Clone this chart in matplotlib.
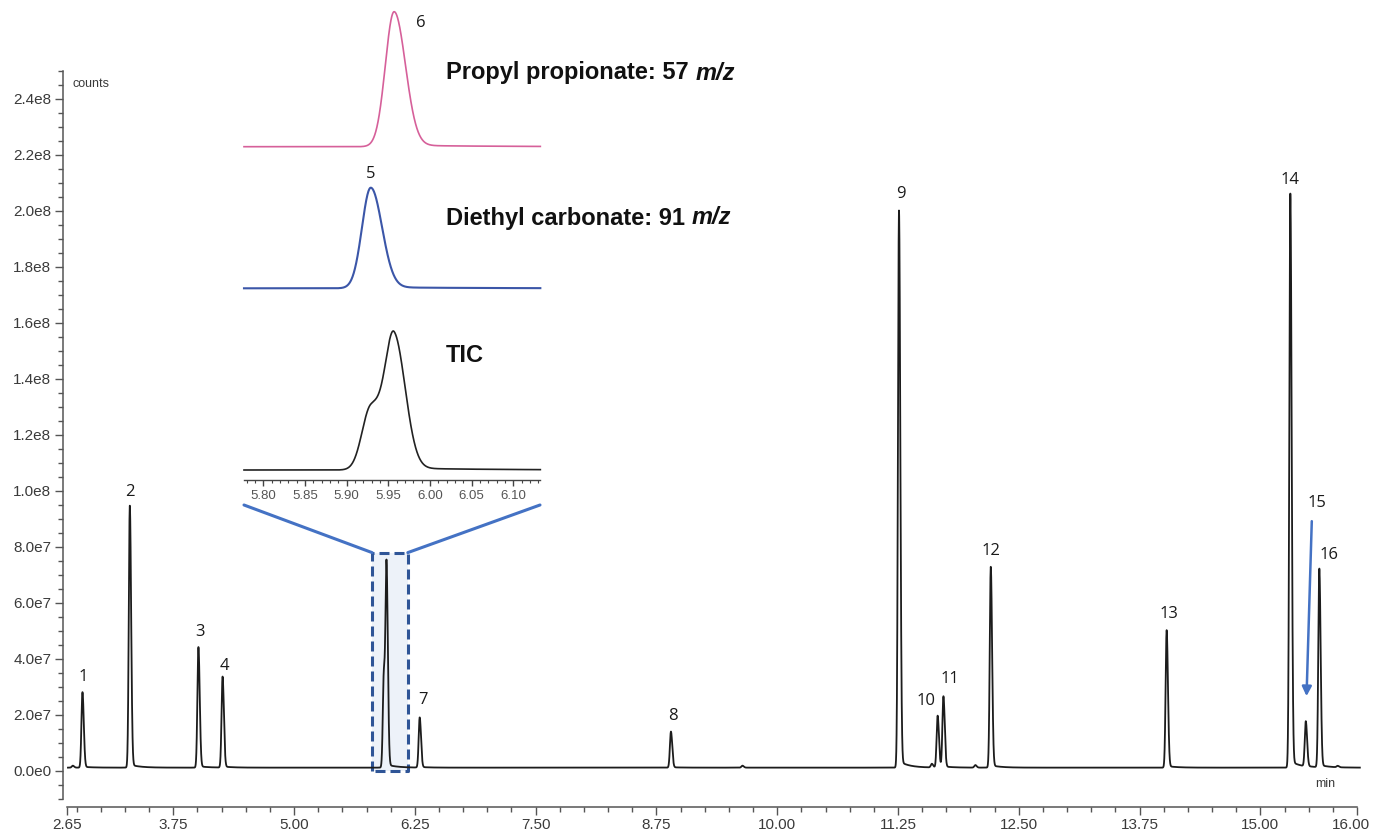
import numpy as np
import matplotlib
matplotlib.use("Agg")
import matplotlib.pyplot as plt
from matplotlib.patches import Rectangle, ConnectionPatch
from matplotlib.ticker import FixedLocator, FuncFormatter
from matplotlib.transforms import ScaledTranslation

plt.rcParams["lines.scale_dashes"] = False

# ---------------- peak table (retention time / min, height above baseline / counts)
peak_ids = ["1", "2", "3", "4", "5", "6", "7", "8", "9", "10", "11", "12", "13", "14", "15", "16"]
peak_rt = [2.81, 3.30, 4.01, 4.26, 5.929, 5.957, 6.30, 8.90, 11.26, 11.66, 11.72,
           12.21, 14.03, 15.31, 15.47, 15.61]
peak_height = [26.8e6, 93.0e6, 42.8e6, 32.3e6, 33.0e6, 69.5e6, 17.8e6, 12.8e6, 197.8e6,
               18.4e6, 25.2e6, 71.3e6, 48.8e6, 203.8e6, 16.0e6, 70.5e6]

# small unlabelled features of the trace
minor_rt = [2.71, 9.64, 11.60, 12.05, 15.80]
minor_height = [0.7e6, 0.7e6, 1.3e6, 0.9e6, 0.5e6]

baseline = 1.2e6

# axis tick values / labels
x_major = [2.65, 3.75, 5.00, 6.25, 7.50, 8.75, 10.00, 11.25, 12.50, 13.75, 15.00, 16.00]
x_major_labels = ["2.65", "3.75", "5.00", "6.25", "7.50", "8.75", "10.00", "11.25",
                  "12.50", "13.75", "15.00", "16.00"]
y_major = [0, 2e7, 4e7, 6e7, 8e7, 1e8, 1.2e8, 1.4e8, 1.6e8, 1.8e8, 2.0e8, 2.2e8, 2.4e8]
inset_major = [5.80, 5.85, 5.90, 5.95, 6.00, 6.05, 6.10]
inset_major_labels = ["5.80", "5.85", "5.90", "5.95", "6.00", "6.05", "6.10"]

# zoom window around the co-eluting pair 5/6
zoom_x = (5.807, 6.177)
zoom_top = 78e6

# ---------------- peak model
SIG_L, SIG_R = 0.0105, 0.0135
TAIL_FRAC, TAIL_TAU = 0.012, 0.10


def peak(t, rt, h):
    s = np.where(t < rt, SIG_L, SIG_R)
    g = np.exp(-0.5 * ((t - rt) / s) ** 2)
    dt = np.clip(t - rt, 0, None)
    tail = TAIL_FRAC * np.exp(-dt / TAIL_TAU) / (1 + np.exp(-(t - rt) / (0.6 * SIG_R)))
    return h * (g + tail)


t = np.arange(2.66, 16.03, 0.0005)
signal = np.full_like(t, baseline)
for rt, h in zip(peak_rt + minor_rt, peak_height + minor_height):
    signal += peak(t, rt, h)

# ---------------- figure
W, H = 1373, 831
fig = plt.figure(figsize=(W / 100, H / 100), dpi=100)


def fx(px):
    return px / W


def fy(py):
    return 1 - py / H


TXT = "#3a3a3a"
SPINE = "#555555"
label_font = "Open Sans"

ax = fig.add_axes([fx(67), fy(799), (1357 - 67) / W, (799 - 71) / H])
ax.set_xlim(2.65, 16.0)
ax.set_ylim(-1e7, 2.5e8)

for s in ("top", "right"):
    ax.spines[s].set_visible(False)
ax.spines["left"].set_position(("outward", 4.5 * 0.72))
ax.spines["bottom"].set_position(("outward", 8 * 0.72))
for s in ("left", "bottom"):
    ax.spines[s].set_color(SPINE)
    ax.spines[s].set_linewidth(1.1)

ax.xaxis.set_major_locator(FixedLocator(x_major))
ax.set_xticklabels(x_major_labels)
x_minor = [v for v in np.arange(2.75, 16.0, 0.25) if min(abs(v - m) for m in x_major) > 1e-6]
ax.xaxis.set_minor_locator(FixedLocator(x_minor))
ax.yaxis.set_major_locator(FixedLocator(y_major))
ax.yaxis.set_minor_locator(FixedLocator(np.arange(-1e7, 2.5e8 + 1, 5e6)))


def sci_fmt(v, pos):
    if v == 0:
        return "0.0e0"
    e = int(np.floor(np.log10(abs(v))))
    return f"{v / 10 ** e:.1f}e{e}"


ax.yaxis.set_major_formatter(FuncFormatter(sci_fmt))
ax.tick_params(axis="both", which="major", direction="out", length=6, width=1.0,
               color=SPINE, pad=2)
ax.tick_params(axis="both", which="minor", direction="out", length=3.5, width=1.0,
               color=SPINE)
for lab in ax.get_xticklabels() + ax.get_yticklabels():
    lab.set_fontfamily("Liberation Sans")
    lab.set_fontsize(11)
    lab.set_color(TXT)
# keep the last x label inside the canvas
last = ax.get_xticklabels()[-1]
last.set_transform(last.get_transform() + ScaledTranslation(-6 / 100, 0, fig.dpi_scale_trans))

ax.text(0.004, 0.982, "counts", transform=ax.transAxes, fontsize=9, color=TXT,
        family="Liberation Sans", va="center", ha="left")
ax.text(0.975, 0.021, "min", transform=ax.transAxes, fontsize=9, color=TXT,
        family="Liberation Sans", va="center", ha="center")

# zoom window (shaded, dashed)
ax.add_patch(Rectangle((zoom_x[0], 0), zoom_x[1] - zoom_x[0], zoom_top,
                       facecolor="#edf2f9", edgecolor="none", zorder=1))
box_x = [zoom_x[0], zoom_x[0], zoom_x[1], zoom_x[1], zoom_x[0]]
box_y = [0, zoom_top, zoom_top, 0, 0]
ax.plot(box_x, box_y, color="#2f5597", lw=2.2, linestyle=(0, (7.2, 3.6)),
        zorder=2, clip_on=False, solid_capstyle="butt", dash_capstyle="butt")

# chromatogram
ax.plot(t, signal, color="#1c1c1c", lw=1.3, zorder=3, clip_on=False)

# peak labels
label_offset_px = {"1": (1, 15), "2": (0, 14), "3": (2, 15), "4": (2, 11), "7": (3, 17),
                   "8": (2, 16), "9": (2, 16), "10": (-12, 15), "11": (6, 17),
                   "12": (0, 16), "13": (2, 16), "14": (0, 14), "15": (11, 218),
                   "16": (10, 14)}
for pid, rt in zip(peak_ids, peak_rt):
    if pid not in label_offset_px:
        continue
    win = np.abs(t - rt) < 0.02
    apex = signal[win].max()
    dx, dy = label_offset_px[pid]
    ax.annotate(pid, xy=(rt, apex), xytext=(dx * 0.72, dy * 0.72),
                textcoords="offset points", ha="center", va="center",
                fontsize=12, family=label_font, color="#1a1a1a", zorder=5)
    if pid == "15":
        ax.annotate("", xy=(rt, apex), xytext=(6 * 0.72, 200 * 0.72),
                    textcoords="offset points",
                    arrowprops=dict(arrowstyle="-|>", color="#4472c4", lw=1.8,
                                    shrinkA=0, shrinkB=25 * 0.72, mutation_scale=14),
                    zorder=5)

# ---------------- inset: extracted ion traces and TIC around 5.95 min
i5, i6 = peak_ids.index("5"), peak_ids.index("6")
t_in = np.arange(5.777, 6.1325, 0.0002)
p5 = peak(t_in, peak_rt[i5], peak_height[i5])
p6 = peak(t_in, peak_rt[i6], peak_height[i6])
tic = p5 + p6
inset_xlim = (5.777, 6.132)
IX0, IX1 = 244, 540


def inset_axes(top, bottom):
    a = fig.add_axes([fx(IX0), fy(bottom), (IX1 - IX0) / W, (bottom - top) / H])
    a.set_xlim(*inset_xlim)
    a.patch.set_alpha(0)
    return a


ax_p = inset_axes(11.7, 146.7)
ax_p.plot(t_in, p6, color="#d6609a", lw=1.2, clip_on=False)
ax_p.set_ylim(0, p6.max())
ax_p.axis("off")

ax_b = inset_axes(187.7, 288.3)
ax_b.plot(t_in, p5, color="#3b56a8", lw=1.5, clip_on=False)
ax_b.set_ylim(0, p5.max())
ax_b.axis("off")

ax_t = inset_axes(331, 470)
ax_t.plot(t_in, tic, color="#222222", lw=1.2, clip_on=False)
ax_t.set_ylim(0, tic.max())
for s in ("top", "right", "left"):
    ax_t.spines[s].set_visible(False)
ax_t.spines["bottom"].set_position(("outward", 10 * 0.72))
ax_t.spines["bottom"].set_color("#444444")
ax_t.spines["bottom"].set_linewidth(1.0)
ax_t.set_yticks([])
ax_t.xaxis.set_major_locator(FixedLocator(inset_major))
ax_t.set_xticklabels(inset_major_labels)
ax_t.xaxis.set_minor_locator(FixedLocator(np.arange(5.78, 6.135, 0.01)))
ax_t.tick_params(axis="x", which="major", direction="out", length=4, width=1.0,
                 color="#444444", pad=3, labelsize=9.5, labelcolor="#555555")
ax_t.tick_params(axis="x", which="minor", direction="out", length=2.5, width=0.8,
                 color="#444444")
for lab in ax_t.get_xticklabels():
    lab.set_fontfamily("Liberation Sans")

# peak numbers in the inset
ax_p.annotate("6", xy=(peak_rt[i6], p6.max()), xytext=(27 * 0.72, -11 * 0.72),
              textcoords="offset points", ha="center", va="center", fontsize=12,
              family=label_font, color="#1a1a1a", annotation_clip=False)
ax_b.annotate("5", xy=(peak_rt[i5], p5.max()), xytext=(0, 14 * 0.72),
              textcoords="offset points", ha="center", va="center", fontsize=12,
              family=label_font, color="#1a1a1a", annotation_clip=False)

# connector lines from the zoom window to the inset
for fig_px, data_x in (((IX0, 505), zoom_x[0]), ((IX1, 505), zoom_x[1])):
    con = ConnectionPatch(xyA=(fx(fig_px[0]), fy(fig_px[1])), coordsA="figure fraction",
                          xyB=(data_x, zoom_top), coordsB=ax.transData,
                          color="#4472c4", lw=2.2)
    fig.add_artist(con)

# trace titles
bold = dict(fontsize=17, fontweight="bold", family="Liberation Sans", color="#111111",
            va="center", ha="left")
fig.canvas.draw()
renderer = fig.canvas.get_renderer()
for title, ypx in (("Propyl propionate: 57", 73), ("Diethyl carbonate: 91", 218)):
    txt = fig.text(fx(446), fy(ypx), title, **bold)
    bb = txt.get_window_extent(renderer=renderer)
    fig.text((bb.x1 + 6.5) / W, fy(ypx), "m/z", fontstyle="italic", **bold)
fig.text(fx(446), fy(356), "TIC", **bold)

fig.savefig("out.png", dpi=100)
